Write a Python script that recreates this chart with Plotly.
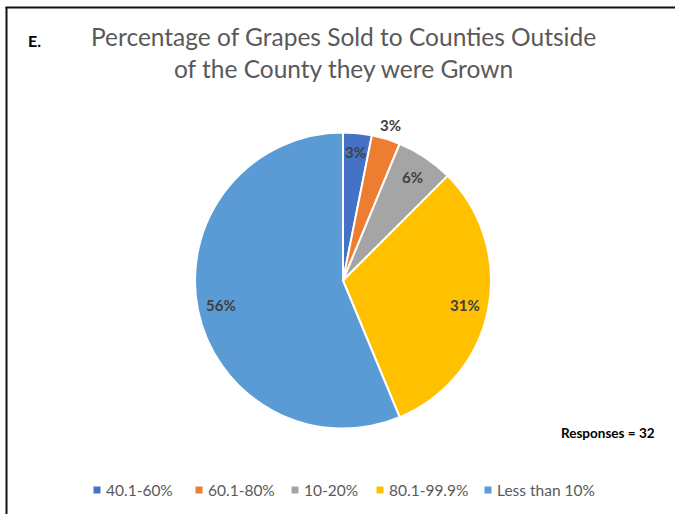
import math
import plotly.graph_objects as go

# Survey responses by share of grapes sold outside the growing county
categories = ["40.1-60%", "60.1-80%", "10-20%", "80.1-99.9%", "Less than 10%"]
counts = [1, 1, 2, 10, 18]
colors = ["#4472C4", "#ED7D31", "#A5A5A5", "#FFC000", "#5B9BD5"]

W, H = 675, 514
FONT = "Lato, 'Open Sans', sans-serif"


def px(x):
    return x / W


def py(y):
    return 1 - y / H


# pie geometry in pixels
cx, cy, R = 343, 280.5, 148

total = sum(counts)
fig = go.Figure()
fig.add_trace(go.Pie(
    labels=categories,
    values=counts,
    marker=dict(colors=colors, line=dict(color="white", width=2)),
    sort=False,
    direction="clockwise",
    rotation=0,
    textinfo="none",
    hoverinfo="label+percent",
    showlegend=False,
    domain=dict(x=[px(cx - R), px(cx + R)], y=[py(cy + R), py(cy - R)]),
))

annotations = []
shapes = []

# data labels, placed along each slice's mid angle
label_radius = [0.87, 1.10, 0.84, 0.84, 0.84]
cum = 0
for c, rf in zip(counts, label_radius):
    mid = (cum + c / 2) / total
    cum += c
    ang = mid * 2 * math.pi
    lx = cx + R * rf * math.sin(ang)
    ly = cy - R * rf * math.cos(ang)
    annotations.append(dict(
        x=px(lx), y=py(ly), xref="paper", yref="paper",
        text=f"<b>{round(100 * c / total)}%</b>", showarrow=False,
        font=dict(family=FONT, size=15, color="#404040"),
        xanchor="center", yanchor="middle",
    ))

# title
annotations.append(dict(
    x=px(343), y=py(53), xref="paper", yref="paper",
    text="Percentage of Grapes Sold to Counties Outside<br>of the County they were Grown",
    showarrow=False, align="center",
    font=dict(family=FONT, size=24.5, color="#595959"),
    xanchor="center", yanchor="middle",
))
annotations.append(dict(
    x=px(26), y=py(41), xref="paper", yref="paper",
    text="<b>E.</b>", showarrow=False,
    font=dict(family=FONT, size=16, color="#000000"),
    xanchor="left", yanchor="middle",
))

# response count
annotations.append(dict(
    x=px(657), y=py(433), xref="paper", yref="paper",
    text=f"<b>Responses = {total}</b>", showarrow=False,
    font=dict(family=FONT, size=13.5, color="#000000"),
    xanchor="right", yanchor="middle",
))

# legend row
legend_x = [97, 199, 295, 380, 488]
ly = 490
for name, col, lx in zip(categories, colors, legend_x):
    shapes.append(dict(
        type="rect", xref="paper", yref="paper",
        x0=px(lx - 3.5), x1=px(lx + 3.5), y0=py(ly + 3.5), y1=py(ly - 3.5),
        fillcolor=col, line=dict(width=0),
    ))
    annotations.append(dict(
        x=px(lx + 7), y=py(ly), xref="paper", yref="paper",
        text=name, showarrow=False,
        font=dict(family=FONT, size=15.5, color="#595959"),
        xanchor="left", yanchor="middle",
    ))

# frame lines (left and top)
shapes.append(dict(type="line", xref="paper", yref="paper",
                   x0=px(6.5), x1=px(6.5), y0=0, y1=py(7),
                   line=dict(color="#111111", width=2)))
shapes.append(dict(type="line", xref="paper", yref="paper",
                   x0=px(5.5), x1=1, y0=py(7.5), y1=py(7.5),
                   line=dict(color="#111111", width=2)))

fig.update_layout(
    width=W, height=H,
    margin=dict(l=0, r=0, t=0, b=0),
    paper_bgcolor="white", plot_bgcolor="white",
    annotations=annotations, shapes=shapes,
)

fig.write_html("out.html")
